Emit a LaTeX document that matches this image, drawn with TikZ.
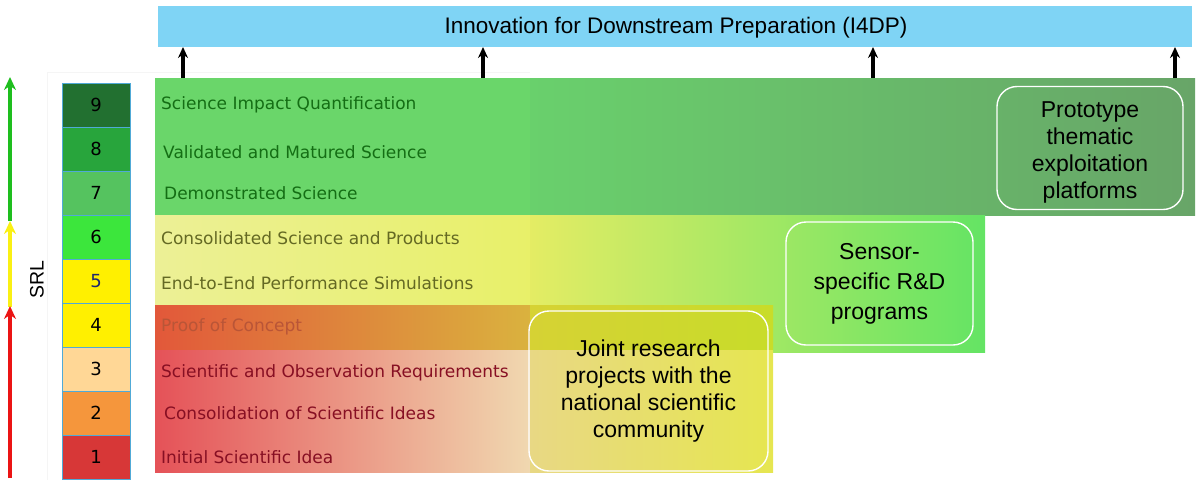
\documentclass[tikz,border=0pt]{standalone}
\usepackage{fontspec}
\setmainfont{Liberation Sans}
\newfontfamily\verd{DejaVu Sans}
\usetikzlibrary{arrows.meta}
\definecolor{barblue}{RGB}{127,212,245}
\definecolor{srlborder}{RGB}{80,170,215}
\definecolor{s9}{RGB}{34,112,48}
\definecolor{s8}{RGB}{40,165,60}
\definecolor{s7}{RGB}{85,195,95}
\definecolor{s6}{RGB}{60,230,60}
\definecolor{s5}{RGB}{255,240,0}
\definecolor{s4}{RGB}{255,240,0}
\definecolor{s3}{RGB}{255,215,150}
\definecolor{s2}{RGB}{245,150,60}
\definecolor{s1}{RGB}{215,55,55}
\definecolor{tgreen}{RGB}{20,110,20}
\definecolor{tolive}{RGB}{100,105,35}
\definecolor{tproof}{RGB}{185,85,55}
\definecolor{tred}{RGB}{135,15,35}
\definecolor{tblue}{RGB}{30,40,110}
\definecolor{arrred}{RGB}{235,20,20}
\definecolor{arryel}{RGB}{250,240,20}
\definecolor{arrgrn}{RGB}{30,190,30}
\definecolor{gA}{RGB}{105,208,108}
\definecolor{gB}{RGB}{104,165,104}
\definecolor{gL}{RGB}{106,214,106}
\definecolor{mA}{RGB}{228,236,100}
\definecolor{mB}{RGB}{100,228,100}
\definecolor{mLA}{RGB}{236,240,150}
\definecolor{mLB}{RGB}{232,240,105}
\definecolor{pA}{RGB}{226,88,58}
\definecolor{pB}{RGB}{218,178,62}
\definecolor{rA}{RGB}{229,82,88}
\definecolor{rM}{RGB}{236,160,150}
\definecolor{rB}{RGB}{240,216,176}
\definecolor{jA}{RGB}{214,210,52}
\definecolor{jB}{RGB}{200,220,42}
\definecolor{kA}{RGB}{232,216,132}
\definecolor{kB}{RGB}{230,230,80}
\tikzset{
  srlbox/.style={draw=srlborder, line width=0.8pt, minimum width=68pt, minimum height=44pt, inner sep=0pt, font=\verd\fontsize{18}{20}\selectfont},
  lvl/.style={anchor=west, inner sep=0pt, font=\verd\fontsize{17}{20}\selectfont},
  prog/.style={draw=white, line width=1.4pt, rounded corners=20pt, align=center, inner sep=0pt, font=\fontsize{23}{27}\selectfont},
  up/.style={-{Stealth[length=11pt,width=10pt]}, line width=3.2pt},
  srlarrow/.style={-{Stealth[length=13pt,width=12pt]}, line width=3.6pt}
}
\begin{document}
\begin{tikzpicture}[x=1pt,y=-1pt]
\useasboundingbox (0,0) rectangle (1196,480);
% faint background frame
\draw[gray!8, line width=0.6pt] (47,480) -- (47,72) -- (530,72);
% top bar
\fill[barblue] (158,6) rectangle (1192,47);
\node[font=\fontsize{22.5}{26}\selectfont] (i4dp) at (676,28) {Innovation for Downstream Preparation (I4DP)};
\coordinate (bars) at (675,47);
% green band (SRL 7-9)
\shade[left color=gA, right color=gB] (530,78) rectangle (1195,215);
\fill[gL] (155,78) rectangle (530,215);
% yellow-green band (SRL 5-6)
\shade[left color=mA, right color=mB] (530,215) rectangle (985,352);
\shade[left color=mLA, right color=mLB] (155,215) rectangle (530,305);
% lower band (SRL 1-4)
\shade[left color=pA, right color=pB] (155,305) rectangle (530,350);
\shade[left color=rA, middle color=rM, right color=rB] (155,350) rectangle (530,472);
\shade[left color=jA, right color=jB] (530,305) rectangle (773,350);
\shade[left color=kA, right color=kB] (530,350) rectangle (773,472);
% arrows to I4DP
\coordinate (a1) at (183,78);
\coordinate (a2) at (483,78);
\coordinate (a3) at (873,78);
\coordinate (a4) at (1175,78);
\foreach \a in {a1,a2,a3,a4} \draw[up] (\a) -- (\a |- bars);
% level labels
\node[lvl, text=tgreen] (l9) at (161,105) {Science Impact Quantification};
\node[lvl, text=tgreen] (l8) at (163,152) {Validated and Matured Science};
\node[lvl, text=tgreen] (l7) at (164,193) {Demonstrated Science};
\node[lvl, text=tolive] (l6) at (161,238) {Consolidated Science and Products};
\node[lvl, text=tolive] (l5) at (161,283) {End-to-End Performance Simulations};
\node[lvl, text=tproof] (l4) at (161,327) {Proof of Concept};
\node[lvl, text=tred] (l3) at (161,373) {Scientific and Observation Requirements};
\node[lvl, text=tred] (l2) at (164,413) {Consolidation of Scientific Ideas};
\node[lvl, text=tred] (l1) at (161,457) {Initial Scientific Idea};
% programme boxes
\node[prog, minimum width=186pt, minimum height=123pt] (proto) at (1090,148) {\\[-3pt]Prototype\\thematic\\exploitation\\platforms};
\node[prog, minimum width=187pt, minimum height=123pt, font=\fontsize{23}{30}\selectfont] (sensor) at (879.5,283.5) {Sensor-\\specific R\&D\\programs};
\node[prog, minimum width=239pt, minimum height=160pt] (joint) at (648.5,391) {Joint research\\projects with the\\national scientific\\community};
% SRL column
\node[srlbox, fill=s9] (n9) at (96,105) {9};
\node[srlbox, fill=s8] (n8) at (96,149) {8};
\node[srlbox, fill=s7] (n7) at (96,193) {7};
\node[srlbox, fill=s6] (n6) at (96,237) {6};
\node[srlbox, fill=s5, text=tblue] (n5) at (96,281) {5};
\node[srlbox, fill=s4] (n4) at (96,325) {4};
\node[srlbox, fill=s3] (n3) at (96,369) {3};
\node[srlbox, fill=s2] (n2) at (96,413) {2};
\node[srlbox, fill=s1] (n1) at (96,457) {1};
\node[rotate=90, font=\fontsize{19.5}{22}\selectfont] (srl) at (37,280) {SRL};
% SRL arrows
\coordinate (r0) at (10,478);
\coordinate (r1) at (10,306);
\coordinate (y0) at (10,307);
\coordinate (y1) at (10,221);
\coordinate (g0) at (10,221);
\coordinate (g1) at (10,77);
\draw[srlarrow, arrgrn] (g0) -- (g1);
\draw[srlarrow, arryel] (y0) -- (y1);
\draw[srlarrow, arrred] (r0) -- (r1);
\end{tikzpicture}
\end{document}
